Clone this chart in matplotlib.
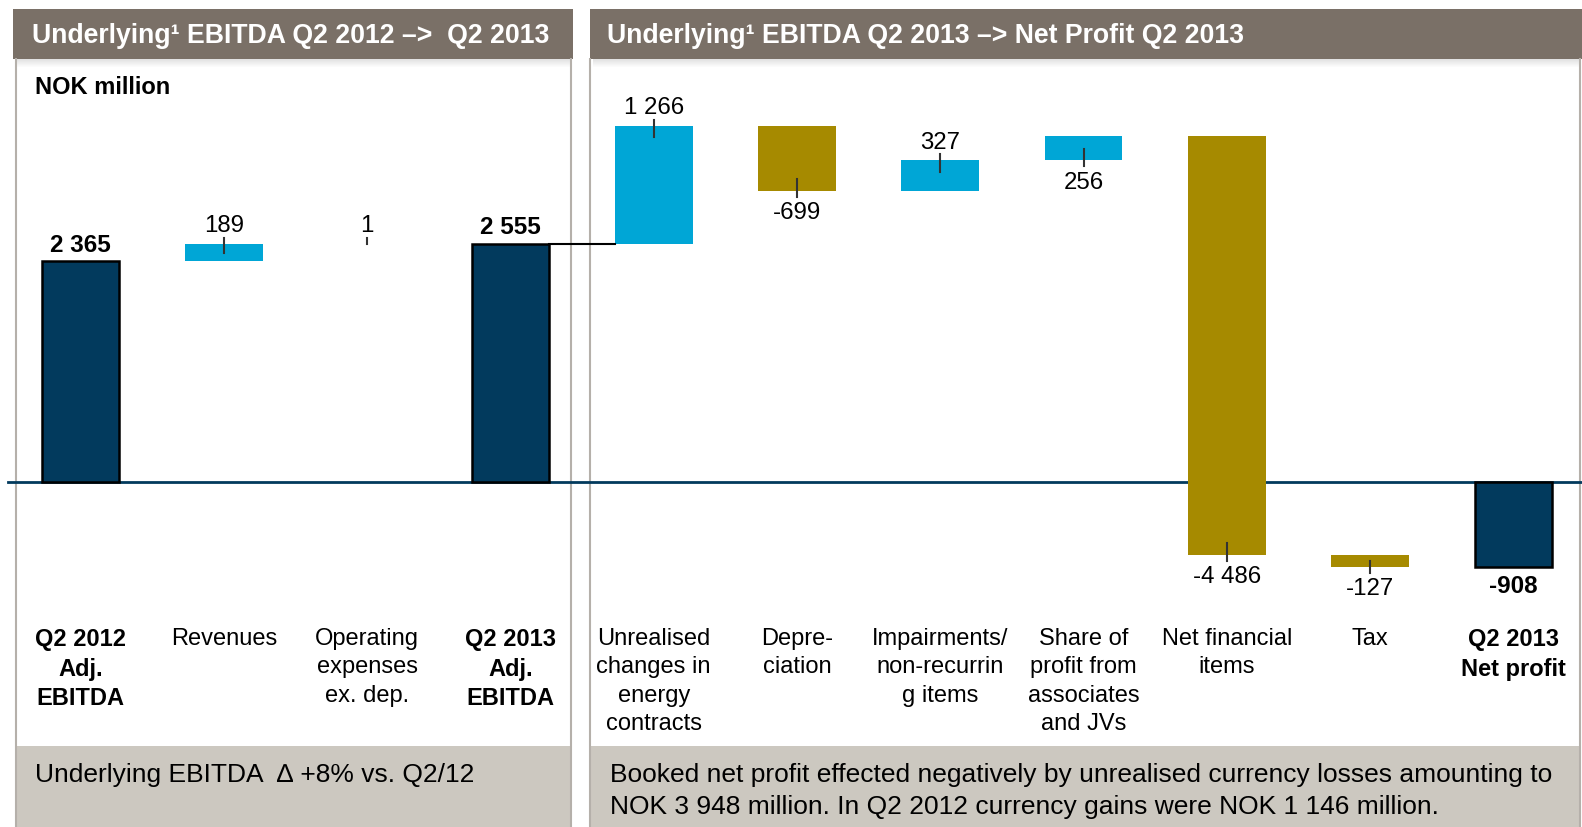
import numpy as np
import matplotlib.pyplot as plt
from matplotlib.patches import Rectangle
from matplotlib import transforms

# waterfall data, NOK million
categories = ["Q2 2012\nAdj.\nEBITDA", "Revenues", "Operating\nexpenses\nex. dep.",
              "Q2 2013\nAdj.\nEBITDA", "Unrealised\nchanges in\nenergy\ncontracts",
              "Depre-\nciation", "Impairments/\nnon-recurrin\ng items",
              "Share of\nprofit from\nassociates\nand JVs", "Net financial\nitems",
              "Tax", "Q2 2013\nNet profit"]
values = [2365, 189, 1, 2555, 1266, -699, 327, 256, -4486, -127, -908]
is_total = [True, False, False, True, False, False, False, False, False, False, True]
label_side = ["top", "top", "top", "top", "top", "bottom", "top", "bottom", "bottom", "bottom", "bottom"]

left_title = "Underlying¹ EBITDA Q2 2012 –>  Q2 2013"
right_title = "Underlying¹ EBITDA Q2 2013 –> Net Profit Q2 2013"
left_note = "Underlying EBITDA  ∆ +8% vs. Q2/12"
right_note = ("Booked net profit effected negatively by unrealised currency losses amounting to\n"
              "NOK 3 948 million. In Q2 2012 currency gains were NOK 1 146 million.")

NAVY = "#023a5d"
CYAN = "#00a6d6"
OLIVE = "#a68a00"
HEADER = "#7a7067"
FOOTER = "#ccc8c0"
BORDER = "#b5b0aa"

plt.rcParams['font.family'] = ['Liberation Sans', 'DejaVu Sans']

W, H = 1582, 827
fig = plt.figure(figsize=(W / 100, H / 100), dpi=100)

# background layer in pixel coordinates
bg = fig.add_axes([0, 0, 1, 1], zorder=0)
bg.set_xlim(0, W)
bg.set_ylim(H, 0)
bg.axis('off')

panels = [(16, 571), (590, 1580)]
headers = [(13, 573), (590, 1582)]
for (x0, x1), (h0, h1) in zip(panels, headers):
    bg.add_patch(Rectangle((x0, 746), x1 - x0, H - 746, facecolor=FOOTER, edgecolor='none'))
    bg.vlines([x0, x1], 58, H, color=BORDER, lw=1.5)
    for k in range(9):
        bg.add_patch(Rectangle((h0 + 3, 58 + k), h1 - h0 - 6, 1, facecolor='black',
                               edgecolor='none', alpha=0.13 * (1 - k / 9)))
    bg.add_patch(Rectangle((h0, 9), h1 - h0, 49.5, facecolor=HEADER, edgecolor='none'))

bg.text(32, 36, left_title, color='white', fontsize=19.2, fontweight='bold', va='center')
bg.text(607, 36, right_title, color='white', fontsize=19.2, fontweight='bold', va='center')
bg.text(35, 88, "NOK million", fontsize=17, fontweight='bold', va='center')
bg.text(35, 775, left_note, fontsize=19, va='center')
bg.text(610, 791, right_note, fontsize=19, va='center', linespacing=1.4)

# chart layer
ax = fig.add_axes([0, 0, 1, 1], zorder=1)
ax.patch.set_alpha(0)
ax.axis('off')
ax.set_xlim(-0.563, 10.479)
ax.set_ylim(-3697, 5167)

w = 0.542
x = np.arange(len(values))
bottoms, heights, colors = [], [], []
running = 0
for v, tot in zip(values, is_total):
    if tot:
        bottoms.append(0)
        running = v
        colors.append(NAVY)
    else:
        bottoms.append(running)
        running += v
        colors.append(CYAN if v > 0 else OLIVE)
    heights.append(v)

ax.axhline(0, xmin=8 / W, xmax=1, color=NAVY, lw=2, zorder=1)

for i in x:
    ax.bar(i, heights[i], bottom=bottoms[i], width=w, color=colors[i],
           edgecolor='black' if is_total[i] else 'none', lw=1.8 if is_total[i] else 0, zorder=2)

# connector from Q2 2013 EBITDA to the second panel
ax.plot([3 + w / 2, 4 - w / 2], [values[3], values[3]], color='black', lw=1.5, zorder=3)


def fmt(v):
    s = f"{abs(v):,}".replace(",", " ")
    return "-" + s if v < 0 else s


for i in x:
    lo = bottoms[i] + min(heights[i], 0)
    hi = bottoms[i] + max(heights[i], 0)
    up = label_side[i] == "top"
    end = hi if up else lo
    sgn = 1 if up else -1
    if is_total[i]:
        off = 11.5 if up else 14.5
        ax.annotate(fmt(values[i]), (i, end), xytext=(0, sgn * off), textcoords='offset points',
                    ha='center', va='center', fontsize=17.5, fontweight='bold', zorder=4)
    else:
        off = 12.5 if up else 16
        inside = min(125, 0.5 * abs(heights[i]))
        ax.plot([i, i], [end - sgn * inside, end + sgn * 65], color='#333333', lw=1.5, zorder=3)
        ax.annotate(fmt(values[i]), (i, end), xytext=(0, sgn * off), textcoords='offset points',
                    ha='center', va='center', fontsize=17.3, zorder=4)

# category labels under the bars
trans = transforms.blended_transform_factory(ax.transData, bg.transData)
for i, lab in enumerate(categories):
    ax.text(i, 628, lab, transform=trans, ha='center', va='top', fontsize=17,
            fontweight='bold' if is_total[i] else 'normal', linespacing=1.37)

fig.savefig("out.png", dpi=100)
